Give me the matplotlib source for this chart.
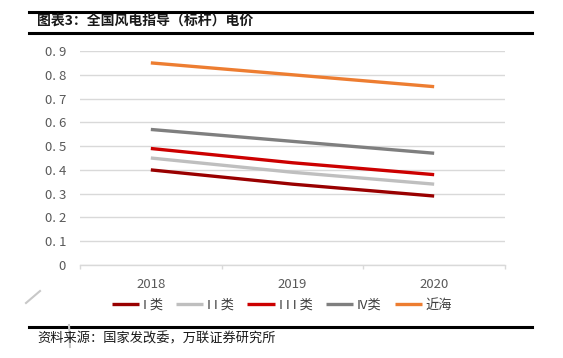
import numpy as np
import matplotlib.pyplot as plt
from matplotlib.lines import Line2D

plt.rcParams['font.family'] = ['Noto Sans CJK SC', 'DejaVu Sans']

years = ['2018', '2019', '2020']
class_1 = [0.40, 0.34, 0.29]
class_2 = [0.45, 0.39, 0.34]
class_3 = [0.49, 0.43, 0.38]
class_4 = [0.57, 0.52, 0.47]
offshore = [0.85, 0.80, 0.75]

series = [
    ('I 类', class_1, '#990000'),
    ('I I 类', class_2, '#bfbfbf'),
    ('I I I 类', class_3, '#cc0000'),
    ('IV类', class_4, '#7f7f7f'),
    ('近海', offshore, '#ed7d31'),
]

W, H = 563, 358
fig = plt.figure(figsize=(W / 100, H / 100), dpi=100)
ax = fig.add_axes([80 / W, 1 - 265 / H, 425 / W, 214 / H])

x = np.arange(len(years))
for name, vals, color in series:
    ax.plot(x, vals, color=color, lw=2.4, label=name, solid_capstyle='butt')

ax.set_xlim(-0.5, 2.5)
ax.set_ylim(0, 0.9)
ax.set_yticks(np.arange(0, 0.91, 0.1))
ax.set_yticklabels(['0'] + ['0. %d' % i for i in range(1, 10)])
ax.set_xticks(x)
ax.set_xticklabels(years)
ax.set_xticks([-0.5, 0.5, 1.5, 2.5], minor=True)
ax.tick_params(axis='x', which='major', length=0, pad=9, labelsize=9.5, labelcolor='#595959')
ax.tick_params(axis='x', which='minor', length=3, color='#d9d9d9', width=1)
ax.tick_params(axis='y', length=0, pad=10, labelsize=9.5, labelcolor='#595959')
ax.grid(axis='y', color='#d9d9d9', lw=1)
ax.set_axisbelow(True)
for s in ['top', 'left', 'right']:
    ax.spines[s].set_visible(False)
ax.spines['bottom'].set_color('#d9d9d9')
ax.spines['bottom'].set_linewidth(1)

ax.legend(loc='center', bbox_to_anchor=(282 / W, 1 - 305 / H), bbox_transform=fig.transFigure,
          ncol=5, frameon=False, fontsize=9.5, handlelength=2.05, handletextpad=0.3,
          columnspacing=1.0, labelcolor='#404040')

# header and footer rules
for yy in [12, 33, 327]:
    fig.add_artist(Line2D([29 / W, 532 / W], [1 - yy / H, 1 - yy / H], color='black', lw=2.2))

fig.text(37 / W, 1 - 21 / H, '图表3：全国风电指导（标杆）电价', fontsize=10, fontweight='bold',
         va='center', ha='left', color='#1a1a1a')
fig.text(37 / W, 1 - 339 / H, '资料来源：国家发改委，万联证券研究所', fontsize=9.5, style='italic',
         va='center', ha='left', color='#1a1a1a')

# scan marks
fig.add_artist(Line2D([26 / W, 40 / W], [1 - 303 / H, 1 - 291 / H], color='#c8c8c8', lw=1.5))
fig.add_artist(Line2D([69 / W, 70 / W], [1 - 325 / H, 1 - 347 / H], color='#c8c8c8', lw=1.5))

fig.savefig('out.png', dpi=100)
